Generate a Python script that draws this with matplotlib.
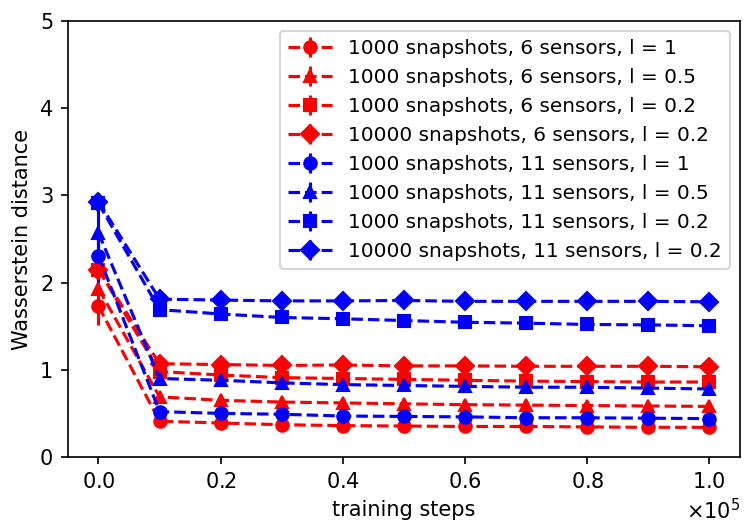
import matplotlib
matplotlib.use("Agg")
import matplotlib.pyplot as plt
from matplotlib.ticker import ScalarFormatter

steps = [0, 10000, 20000, 30000, 40000, 50000, 60000, 70000, 80000, 90000, 100000]

red_l1 = [1.73, 0.41, 0.39, 0.37, 0.36, 0.355, 0.35, 0.35, 0.345, 0.34, 0.34]
red_l05 = [1.93, 0.69, 0.65, 0.63, 0.62, 0.61, 0.60, 0.595, 0.59, 0.585, 0.58]
red_l02 = [2.15, 0.98, 0.94, 0.91, 0.90, 0.89, 0.88, 0.87, 0.865, 0.86, 0.86]
red_10k = [2.15, 1.07, 1.06, 1.05, 1.055, 1.045, 1.045, 1.04, 1.04, 1.04, 1.035]
blue_l1 = [2.31, 0.52, 0.50, 0.49, 0.47, 0.465, 0.46, 0.45, 0.45, 0.445, 0.44]
blue_l05 = [2.57, 0.90, 0.88, 0.85, 0.83, 0.82, 0.81, 0.80, 0.80, 0.79, 0.78]
blue_l02 = [2.91, 1.69, 1.64, 1.60, 1.585, 1.565, 1.545, 1.535, 1.52, 1.515, 1.505]
blue_10k = [2.93, 1.81, 1.80, 1.79, 1.79, 1.795, 1.785, 1.785, 1.785, 1.785, 1.78]

err_red_l1 = [0.22, 0.01, 0.01, 0.01, 0.01, 0.01, 0.01, 0.01, 0.01, 0.01, 0.01]
err_red_l05 = [0.15, 0.01, 0.01, 0.01, 0.01, 0.01, 0.01, 0.01, 0.01, 0.01, 0.01]
err_red_l02 = [0.12, 0.01, 0.01, 0.01, 0.01, 0.01, 0.01, 0.01, 0.01, 0.01, 0.01]
err_red_10k = [0.05, 0.01, 0.01, 0.01, 0.01, 0.01, 0.01, 0.01, 0.01, 0.01, 0.01]
err_blue_l1 = [0.30, 0.01, 0.01, 0.01, 0.01, 0.01, 0.01, 0.01, 0.01, 0.01, 0.01]
err_blue_l05 = [0.30, 0.01, 0.01, 0.01, 0.01, 0.01, 0.01, 0.01, 0.01, 0.01, 0.01]
err_blue_l02 = [0.10, 0.01, 0.01, 0.01, 0.01, 0.01, 0.01, 0.01, 0.01, 0.01, 0.01]
err_blue_10k = [0.06, 0.01, 0.01, 0.01, 0.01, 0.01, 0.01, 0.01, 0.01, 0.01, 0.01]

labels = [
    "1000 snapshots, 6 sensors, l = 1",
    "1000 snapshots, 6 sensors, l = 0.5",
    "1000 snapshots, 6 sensors, l = 0.2",
    "10000 snapshots, 6 sensors, l = 0.2",
    "1000 snapshots, 11 sensors, l = 1",
    "1000 snapshots, 11 sensors, l = 0.5",
    "1000 snapshots, 11 sensors, l = 0.2",
    "10000 snapshots, 11 sensors, l = 0.2",
]

series = [red_l1, red_l05, red_l02, red_10k, blue_l1, blue_l05, blue_l02, blue_10k]
errs = [err_red_l1, err_red_l05, err_red_l02, err_red_10k,
        err_blue_l1, err_blue_l05, err_blue_l02, err_blue_10k]
colors = ["red"] * 4 + ["blue"] * 4
markers = ["o", "^", "s", "D"] * 2

fig = plt.figure(figsize=(755 / 150, 532 / 150), dpi=150)
ax = fig.add_axes([0.090, 0.141, 0.890, 0.8195])

for y, e, c, m, lab in zip(series, errs, colors, markers, labels):
    ax.errorbar(steps, y, yerr=e, color=c, marker=m, linestyle="--",
                markersize=6, label=lab, linewidth=1.5)

ax.set_ylim(0, 5)
ax.set_yticks([0, 1, 2, 3, 4, 5])
ax.set_xticks([0, 20000, 40000, 60000, 80000, 100000])
fmt = ScalarFormatter(useMathText=True)
fmt.set_powerlimits((0, 0))
ax.xaxis.set_major_formatter(fmt)
ax.set_xlabel("training steps")
ax.set_ylabel("Wasserstein distance")
ax.legend(loc="upper right", fontsize=9.6, handlelength=2.2)

fig.savefig("out.png", dpi=150)
